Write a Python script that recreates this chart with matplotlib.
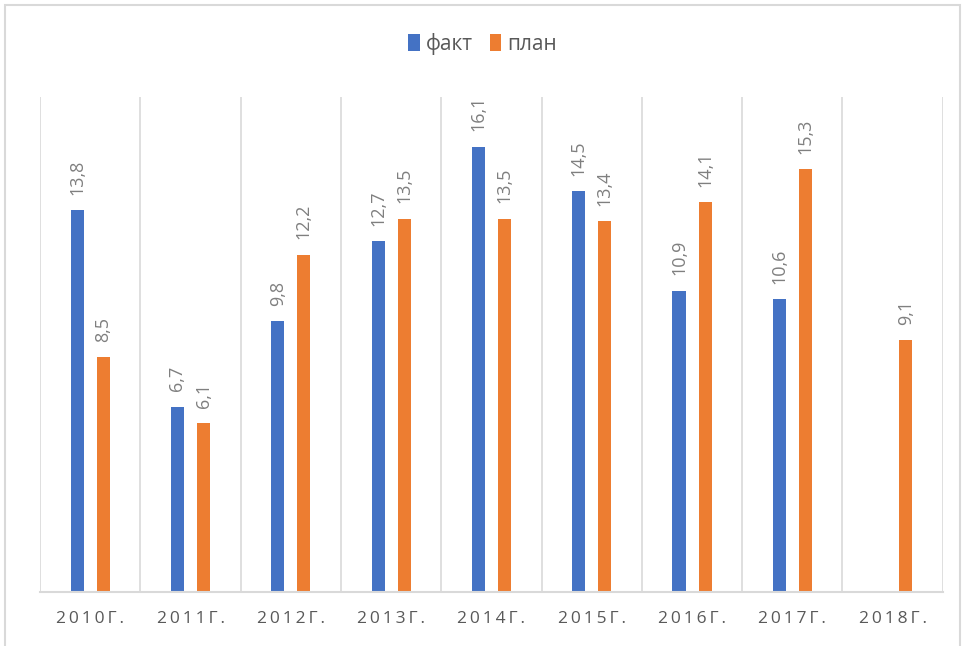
import matplotlib.pyplot as plt
import numpy as np
import matplotlib as mpl

years = ['2010г.', '2011г.', '2012г.', '2013г.', '2014г.', '2015г.', '2016г.', '2017г.', '2018г.']
fakt = [13.8, 6.7, 9.8, 12.7, 16.1, 14.5, 10.9, 10.6, np.nan]
plan = [8.5, 6.1, 12.2, 13.5, 13.5, 13.4, 14.1, 15.3, 9.1]

mpl.rcParams['font.family'] = ['Open Sans', 'DejaVu Sans']

x = np.arange(len(years))
w = 0.13 # bar width

fig = plt.figure(figsize=(9.65, 6.46), dpi=100)
ax = fig.add_axes([0.0415, 0.0836, 0.9355, 0.7664])

fig.patches.append(mpl.patches.Rectangle((0.005, -0.01), 0.99, 1.003, transform=fig.transFigure,
                                         fill=False, edgecolor='#d9d9d9', linewidth=1.5))

b1 = ax.bar(x - w, fakt, w, color='#4472c4', label='факт')
b2 = ax.bar(x + w, plan, w, color='#ed7d31', label='план')

#labels above bars
for xs, vals in ((x - w, fakt), (x + w, plan)):
    for xi, v in zip(xs, vals):
        if np.isnan(v):
            continue
        ax.text(xi, v + 0.55, str(v).replace('.', ','), rotation=90, ha='center', va='bottom',
                fontsize=13, color='#7f7f7f')

ax.set_xlim(-0.5, len(years) - 0.5)
ax.set_ylim(0, 17.9)
ax.set_yticks([])
ax.set_xticks(x)
ax.set_xticklabels(['\u2009'.join(y.upper()) for y in years], fontsize=12.5, color='#595959')
ax.tick_params(axis='x', length=0, pad=14)

for b in np.arange(-0.5, len(years), 1.0):
    ax.axvline(b, color='#d9d9d9', linewidth=1.2, zorder=0)

for s in ['top', 'left', 'right']:
    ax.spines[s].set_visible(False)
ax.spines['bottom'].set_color('#d9d9d9')
ax.spines['bottom'].set_linewidth(1.5)

fig.legend(handles=[b1, b2], loc='center', bbox_to_anchor=(0.5, 0.932), ncol=2, frameon=False,
           fontsize=15, handlelength=0.55, handleheight=0.9, handletextpad=0.3, columnspacing=0.8,
           labelcolor='#595959')

fig.savefig('out.png', dpi=100)
